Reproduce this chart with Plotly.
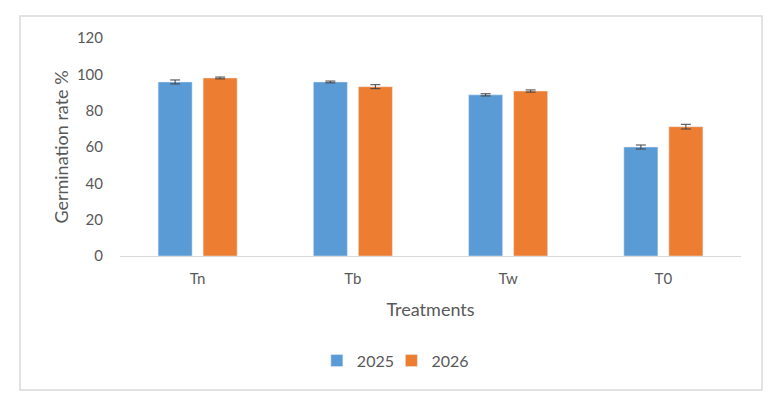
import plotly.graph_objects as go

categories = ["Tn", "Tb", "Tw", "T0"]
y2025 = [95.8, 95.8, 88.7, 60.0]
err2025 = [1.1, 0.5, 0.6, 1.1]
y2026 = [98.0, 93.2, 90.8, 71.2]
err2026 = [0.5, 1.1, 0.6, 1.3]
yticks = [0, 20, 40, 60, 80, 100, 120]

font_family = "Lato, 'Open Sans', sans-serif"
txt_color = "#595959"
err_color = "#404040"

fig = go.Figure()
fig.add_trace(go.Bar(
    name="2025", x=categories, y=y2025, marker_color="#5B9BD5",
    error_y=dict(type="data", array=err2025, color=err_color, thickness=1, width=5),
    legend="legend",
))
fig.add_trace(go.Bar(
    name="2026", x=categories, y=y2026, marker_color="#ED7D31",
    error_y=dict(type="data", array=err2026, color=err_color, thickness=1, width=5),
    legend="legend2",
))

leg_common = dict(orientation="h", xanchor="left", y=-0.48, yanchor="middle",
                  font=dict(size=16, color=txt_color), itemwidth=30,
                  bgcolor="rgba(0,0,0,0)")

fig.update_layout(
    width=780, height=402,
    margin=dict(l=120, r=39, t=38, b=146),
    paper_bgcolor="white", plot_bgcolor="white",
    barmode="group", bargap=0.42, bargroupgap=0.244,
    font=dict(family=font_family, size=15, color=txt_color),
    showlegend=True,
    legend=dict(x=0.317, **leg_common),
    legend2=dict(x=0.437, **leg_common),
    shapes=[dict(type="rect", xref="paper", yref="paper",
                 x0=-100/621, x1=642/621, y0=-134/218, y1=240/218,
                 line=dict(color="#d9d9d9", width=1.5), layer="below")],
)
fig.update_xaxes(
    showline=True, linecolor="#d9d9d9", linewidth=1, showgrid=False, ticks="",
    ticklabelstandoff=9,
    title=dict(text="Treatments", font=dict(size=18, color=txt_color), standoff=17),
)
fig.update_yaxes(
    range=[0, 120], tickvals=yticks, showgrid=False, zeroline=False, showline=False,
    ticks="", ticklabelstandoff=16,
    title=dict(text="Germination rate %", font=dict(size=18, color=txt_color), standoff=3),
)

fig.write_html("out.html")
